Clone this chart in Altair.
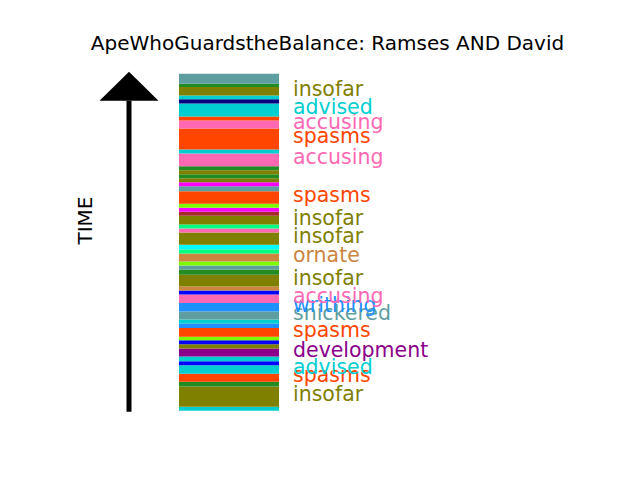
import altair as alt
import pandas as pd

# stripes listed from earliest (bottom) to latest (top)
colors = [
    "darkturquoise", "olive", "forestgreen", "orangered", "darkturquoise", "blue",
    "darkturquoise", "darkmagenta", "olive", "blue", "lawngreen", "orangered",
    "dodgerblue", "darkturquoise", "cadetblue", "dodgerblue", "hotpink", "blue",
    "peru", "olive", "forestgreen", "cadetblue", "lawngreen", "peru",
    "springgreen", "aqua", "olive", "hotpink", "springgreen", "olive",
    "brown", "magenta", "lawngreen", "orangered", "cadetblue", "magenta",
    "olive", "forestgreen", "olive", "forestgreen", "hotpink", "darkturquoise",
    "orangered", "hotpink", "orangered", "darkturquoise", "navy", "darkturquoise",
    "olive", "forestgreen", "cadetblue",
]
durations = [
    1.0, 5.0, 1.2, 2.0, 2.1, 1.0,
    1.2, 2.0, 1.0, 1.0, 0.9, 2.2,
    1.1, 1.0, 2.0, 2.1, 2.1, 1.0,
    1.0, 2.9, 1.3, 1.0, 1.0, 2.0,
    1.0, 1.2, 3.0, 1.0, 1.0, 2.2,
    1.0, 1.0, 1.0, 3.1, 1.2, 1.0,
    1.0, 1.0, 1.0, 1.0, 3.2, 1.0,
    5.2, 2.0, 1.0, 3.2, 1.1, 0.9,
    2.1, 0.8, 2.5,
]
labels = [
    "", "insofar", "", "spasms", "advised", "",
    "", "development", "", "", "", "spasms",
    "", "", "snickered", "writhing", "accusing", "",
    "", "insofar", "", "", "", "ornate",
    "", "", "insofar", "", "", "insofar",
    "", "", "", "spasms", "", "",
    "", "", "", "", "accusing", "",
    "spasms", "accusing", "", "advised", "", "",
    "insofar", "", "",
]

title_text = "ApeWhoGuardstheBalance: Ramses AND David"
axis_text = "TIME"

ends = pd.Series(durations).cumsum()
starts = ends - pd.Series(durations)
df = pd.DataFrame({
    "color": colors,
    "start": starts,
    "end": ends,
    "mid": (starts + ends) / 2,
    "label": labels,
})
lab_df = df[df["label"] != ""]

arrow_shaft = pd.DataFrame({"x": [0.0], "y": [-0.25], "y2": [77.1]})
arrow_head = pd.DataFrame({"x": [-0.59, 0.0, 0.59], "y": [77.1, 84.3, 77.1], "y2": [77.1, 77.1, 77.1]})

xs = alt.Scale(domain=[-2.42, 10.06], nice=False, zero=False)
ys = alt.Scale(domain=[-15.25, 100.17], nice=False, zero=False)
FONT = "DejaVu Sans"

bars = alt.Chart(df).mark_rect().encode(
    x=alt.X(datum=1, scale=xs, axis=None),
    x2=alt.datum(3),
    y=alt.Y("start:Q", scale=ys, axis=None),
    y2="end:Q",
    color=alt.Color("color:N", scale=None),
)

texts = alt.Chart(lab_df).mark_text(
    align="left", baseline="alphabetic", dy=4.5, fontSize=20.5, font=FONT
).encode(
    x=alt.X(datum=3.28, scale=xs, axis=None),
    y=alt.Y("mid:Q", scale=ys, axis=None),
    text="label:N",
    color=alt.Color("color:N", scale=None),
)

shaft = alt.Chart(arrow_shaft).mark_rule(color="black", strokeWidth=5).encode(
    x=alt.X("x:Q", scale=xs, axis=None),
    y=alt.Y("y:Q", scale=ys, axis=None),
    y2="y2:Q",
)

head = alt.Chart(arrow_head).mark_area(color="black", interpolate="linear").encode(
    x=alt.X("x:Q", scale=xs, axis=None),
    y=alt.Y("y:Q", scale=ys, axis=None),
    y2="y2:Q",
)

time_lbl = alt.Chart(pd.DataFrame({"t": [axis_text]})).mark_text(
    angle=270, align="center", baseline="alphabetic", fontSize=20, font=FONT, color="black"
).encode(
    x=alt.X(datum=-0.746, scale=xs, axis=None),
    y=alt.Y(datum=47.3, scale=ys, axis=None),
    text="t:N",
)

title = alt.Chart(pd.DataFrame({"t": [title_text]})).mark_text(
    align="center", baseline="alphabetic", fontSize=20, font=FONT, color="black"
).encode(
    x=alt.value(319.5),
    y=alt.value(42),
    text="t:N",
)

chart = alt.layer(bars, texts, shaft, head, time_lbl, title).properties(
    width=624, height=464, padding=0, autosize=alt.AutoSizeParams(type="none"),
    background="white",
).configure_view(strokeWidth=0)

chart.save("out.html", embed_options={"renderer": "svg", "actions": False})
